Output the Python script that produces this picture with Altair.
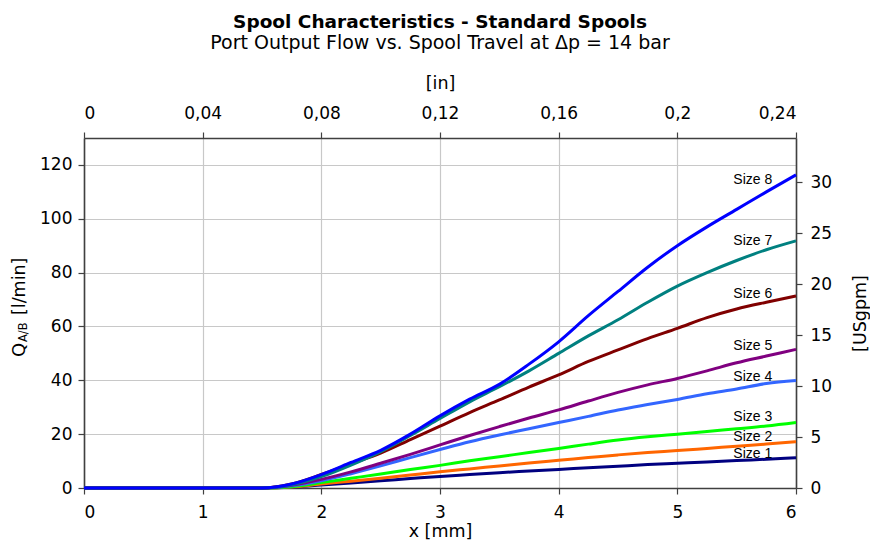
import altair as alt
import pandas as pd

# ---- data ----
x_mm = [0, 1.5, 1.75, 2, 2.25, 2.5, 2.75, 3, 3.25, 3.5, 3.75, 4, 4.25, 4.5, 4.75, 5, 5.25, 5.5, 5.75, 6]
size1 = [0, 0, 0.3, 1.1, 1.9, 2.7, 3.5, 4.3, 5.0, 5.7, 6.3, 6.9, 7.5, 8.1, 8.7, 9.2, 9.7, 10.2, 10.7, 11.2]
size2 = [0, 0, 0.4, 1.5, 2.5, 3.6, 4.8, 6.0, 7.1, 8.2, 9.3, 10.3, 11.3, 12.3, 13.2, 13.9, 14.7, 15.5, 16.3, 17.2]
size3 = [0, 0, 0.5, 2.0, 3.6, 5.2, 6.9, 8.4, 10.1, 11.6, 13.2, 14.7, 16.3, 17.8, 19.0, 20.0, 21.0, 22.0, 23.0, 24.3]
size4 = [0, 0, 0.8, 2.7, 5.3, 8.2, 11.3, 14.3, 17.2, 19.7, 22.0, 24.3, 26.6, 29.0, 31.0, 32.9, 35.0, 36.8, 38.8, 39.9]
size5 = [0, 0, 1.0, 3.2, 6.0, 9.2, 12.5, 16.0, 19.5, 22.8, 26.0, 29.0, 32.3, 35.5, 38.3, 40.7, 43.5, 46.5, 49.0, 51.5]
size6 = [0, 0, 1.5, 5.0, 9.0, 13.0, 18.0, 23.0, 28.0, 32.7, 37.5, 42.0, 47.0, 51.3, 55.5, 59.3, 63.3, 66.5, 69.0, 71.3]
size7 = [0, 0, 1.2, 4.2, 8.5, 13.5, 19.5, 25.8, 32.0, 37.6, 43.5, 50.0, 56.5, 62.5, 69.0, 75.0, 80.0, 84.5, 88.5, 91.8]
size8 = [0, 0, 1.5, 5.0, 9.5, 14.0, 20.0, 26.8, 33.0, 38.5, 46.0, 54.3, 64.0, 73.0, 82.0, 90.0, 97.0, 103.5, 110.0, 116.3]

series_names = ["Size 1", "Size 2", "Size 3", "Size 4", "Size 5", "Size 6", "Size 7", "Size 8"]
series_vals = [size1, size2, size3, size4, size5, size6, size7, size8]
series_colors = ["#000080", "#FF6600", "#00FF00", "#3366FF", "#800080", "#800000", "#008080", "#0000FF"]

label_x = [5.8] * 8
label_y = [12.6, 19.1, 26.3, 41.4, 52.7, 72.0, 91.8, 114.4]

x_ticks = [0, 1, 2, 3, 4, 5, 6]
y_ticks = [0, 20, 40, 60, 80, 100, 120]
in_ticks = [0, 0.04, 0.08, 0.12, 0.16, 0.2, 0.24]
gpm_ticks = [0, 5, 10, 15, 20, 25, 30]

X_MAX = 6
Y_MAX = 130
IN_MAX = 0.24
GPM_MAX = 130 / 3.7854

FONT = "DejaVu Sans"

rows = []
for name, vals in zip(series_names, series_vals):
    for xv, yv in zip(x_mm, vals):
        rows.append({"x": xv, "q": yv, "series": name})
df = pd.DataFrame(rows)

labels_df = pd.DataFrame({"x": label_x, "q": label_y, "series": series_names})

xscale = alt.Scale(domain=[0, X_MAX], nice=False, zero=False)
yscale = alt.Scale(domain=[0, Y_MAX], nice=False)
color = alt.Color("series:N", scale=alt.Scale(domain=series_names, range=series_colors), legend=None)

axis_common = dict(
    domainColor="#404040", domainWidth=1.6, tickColor="#404040", tickWidth=1.2, tickSize=6,
    labelFont=FONT, labelFontSize=17, labelColor="#000000",
    titleFont=FONT, titleFontSize=17.5, titleFontWeight="normal", titleColor="#000000",
)

lines = alt.Chart(df).mark_line(strokeWidth=3, interpolate="monotone").encode(
    x=alt.X("x:Q", scale=xscale,
            axis=alt.Axis(title="x [mm]", values=x_ticks, grid=True, gridColor="#c8c8c8",
                          gridWidth=1.2, labelPadding=10, titlePadding=2, **axis_common)),
    y=alt.Y("q:Q", scale=yscale,
            axis=alt.Axis(title=None, values=y_ticks, grid=True, gridColor="#c8c8c8",
                          gridWidth=1.2, labelPadding=6, **axis_common)),
    color=color,
    detail="series:N",
)

labels = alt.Chart(labels_df).mark_text(
    font="Liberation Sans", fontSize=14, align="right", baseline="middle", color="#000000"
).encode(
    x=alt.X("x:Q", scale=xscale, axis=None),
    y=alt.Y("q:Q", scale=yscale, axis=None),
    text="series:N",
)

# top axis in inches
top_df = pd.DataFrame({"inch": [0, IN_MAX]})
top = alt.Chart(top_df).mark_point(opacity=0).encode(
    x=alt.X("inch:Q", scale=alt.Scale(domain=[0, IN_MAX], nice=False, zero=False),
            axis=alt.Axis(orient="top", title="[in]", values=in_ticks, grid=False,
                          labelExpr="replace(format(datum.value, '.2~f'), '.', ',')",
                          labelPadding=10, titlePadding=12, **axis_common)),
)

# right axis in USgpm
right_df = pd.DataFrame({"gpm": [0, GPM_MAX]})
right = alt.Chart(right_df).mark_point(opacity=0).encode(
    y=alt.Y("gpm:Q", scale=alt.Scale(domain=[0, GPM_MAX], nice=False),
            axis=alt.Axis(orient="right", title="[USgpm]", values=gpm_ticks, grid=False,
                          titleAngle=270, labelPadding=8, titlePadding=38, **axis_common)),
)

# left axis title with subscript
ytitle_q = alt.Chart(pd.DataFrame({"t": ["Q"]})).mark_text(
    font=FONT, fontSize=18, angle=270, align="left", baseline="middle", color="#000000"
).encode(x=alt.value(-64), y=alt.value(219), text="t:N")
ytitle_sub = alt.Chart(pd.DataFrame({"t": ["A/B"]})).mark_text(
    font=FONT, fontSize=11.5, angle=270, align="left", baseline="middle", color="#000000"
).encode(x=alt.value(-60), y=alt.value(204), text="t:N")
ytitle_unit = alt.Chart(pd.DataFrame({"t": ["[l/min]"]})).mark_text(
    font=FONT, fontSize=17.5, angle=270, align="left", baseline="middle", color="#000000"
).encode(x=alt.value(-64), y=alt.value(177), text="t:N")

chart = alt.layer(lines, labels, ytitle_q, ytitle_sub, ytitle_unit, top, right).resolve_scale(
    x="independent", y="independent"
).properties(
    width=712, height=350,
    autosize=alt.AutoSizeParams(type="none"),
    padding={"left": 76, "top": 130, "right": 74, "bottom": 55},
    title=alt.TitleParams(
        text="Spool Characteristics - Standard Spools",
        subtitle="Port Output Flow vs. Spool Travel at Δp = 14 bar",
        font=FONT, fontSize=18.5, fontWeight="bold", color="#000000",
        subtitleFont=FONT, subtitleFontSize=19, subtitleColor="#000000",
        subtitlePadding=3, anchor="middle", offset=21,
    ),
).configure_view(stroke=None).configure(background="white")

chart.save("out.html", embed_options={"renderer": "svg", "actions": False})
